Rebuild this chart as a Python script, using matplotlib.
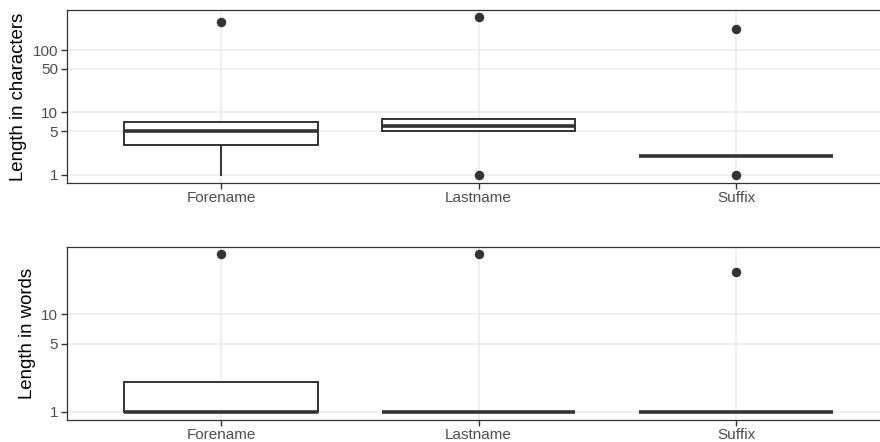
import matplotlib
matplotlib.use("Agg")
import matplotlib.pyplot as plt

plt.rcParams['font.family'] = ['Liberation Sans', 'DejaVu Sans']

categories = ["Forename", "Lastname", "Suffix"]

# Length in characters: q1, median, q3, whisker low, whisker high, outliers
chars_q1 = [3, 5, 2]
chars_med = [5, 6, 2]
chars_q3 = [7, 8, 2]
chars_wlo = [1, 5, 2]
chars_whi = [7, 8, 2]
chars_out = [[280], [1, 337], [1, 217]]
chars_ticks = [1, 5, 10, 50, 100]

# Length in words
words_q1 = [1, 1, 1]
words_med = [1, 1, 1]
words_q3 = [2, 1, 1]
words_wlo = [1, 1, 1]
words_whi = [2, 1, 1]
words_out = [[42], [42], [27]]
words_ticks = [1, 5, 10]

W, H = 880, 442
fig = plt.figure(figsize=(W / 100, H / 100), dpi=100)

dark = "#333333"
grid = "#EBEBEB"


def panel(rect, q1, med, q3, wlo, whi, out, ticks, ylim, ylabel):
    ax = fig.add_axes(rect)
    stats = []
    for i, c in enumerate(categories):
        stats.append(dict(label=c, q1=q1[i], med=med[i], q3=q3[i],
                          whislo=wlo[i], whishi=whi[i], fliers=out[i]))
    ax.set_yscale("log")
    ax.bxp(stats, positions=range(len(categories)), widths=0.75,
           showcaps=False, patch_artist=True,
           boxprops=dict(facecolor="white", edgecolor=dark, linewidth=1.4),
           medianprops=dict(color=dark, linewidth=2.6, solid_capstyle="butt"),
           whiskerprops=dict(color=dark, linewidth=1.4),
           flierprops=dict(marker="o", markerfacecolor=dark, markeredgecolor=dark,
                           markersize=5.8, linestyle="none"),
           zorder=3)
    ax.set_xlim(-0.6, len(categories) - 0.4)
    ax.set_ylim(*ylim)
    ax.set_yticks(ticks)
    ax.set_yticklabels([str(t) for t in ticks])
    ax.yaxis.set_minor_locator(matplotlib.ticker.NullLocator())
    ax.set_xticks(range(len(categories)))
    ax.set_xticklabels(categories)
    ax.grid(True, color=grid, linewidth=1.1, zorder=0)
    ax.set_axisbelow(True)
    for s in ax.spines.values():
        s.set_color(dark)
        s.set_linewidth(0.9)
    ax.tick_params(axis="both", colors=dark, labelcolor="#4D4D4D",
                   labelsize=11, length=4, width=1.0, pad=2)
    ax.set_ylabel(ylabel, fontsize=13.4, color="black", labelpad=4)
    return ax


ax_w = 824 / W
ax_l = 66.5 / W
h = 173 / H
panel([ax_l, (H - 183) / H, ax_w, h], chars_q1, chars_med, chars_q3,
      chars_wlo, chars_whi, chars_out, chars_ticks, (10 ** -0.128, 10 ** 2.64),
      "Length in characters")
panel([ax_l, (H - 420) / H, ax_w, h], words_q1, words_med, words_q3,
      words_wlo, words_whi, words_out, words_ticks, (10 ** -0.085, 10 ** 1.69),
      "Length in words")

fig.savefig("out.png", dpi=100)
